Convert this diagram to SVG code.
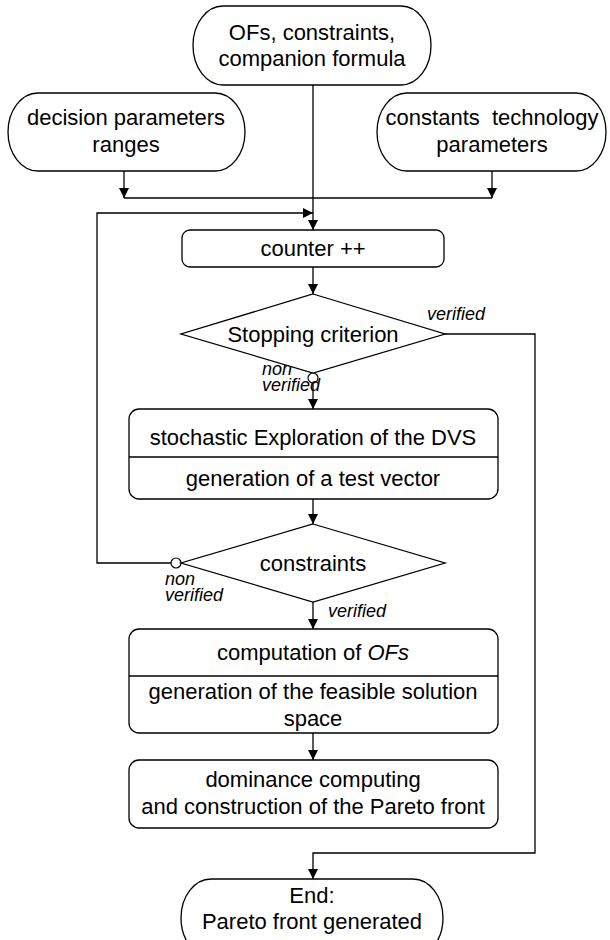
<svg xmlns="http://www.w3.org/2000/svg" width="610" height="940" viewBox="0 0 610 940">
  <style>
    .shape { fill: #ffffff; stroke: #000000; stroke-width: 1.3; }
    .wire { fill: none; stroke: #000000; stroke-width: 1.3; }
    .txt { font-family: "Liberation Sans", Arial, sans-serif; font-size: 22px; fill: #000000; text-anchor: middle; }
    .lbl { font-family: "Liberation Sans", Arial, sans-serif; font-size: 18px; font-style: italic; fill: #000000; }
    .dot { fill: #ffffff; stroke: #000000; stroke-width: 1.2; }
  </style>
  <defs>
    <marker id="arrow" viewBox="0 0 10 10" refX="10" refY="5" markerWidth="10" markerHeight="10" markerUnits="userSpaceOnUse" orient="auto">
      <path d="M0,0 L10,5 L0,10 z" fill="#000000"/>
    </marker>
  </defs>
  <rect width="610" height="940" fill="#ffffff"/>

  <!-- connectors -->
  <g id="connectors">
    <path class="wire" d="M313,85 V230" marker-end="url(#arrow)"/>
    <path class="wire" d="M124,171 V198" marker-end="url(#arrow)"/>
    <path class="wire" d="M492,171 V198" marker-end="url(#arrow)"/>
    <path class="wire" d="M124,198 H492"/>
    <path class="wire" d="M171,563 H97 V213 H313" marker-end="url(#arrow)"/>
    <path class="wire" d="M313,267 V294" marker-end="url(#arrow)"/>
    <path class="wire" d="M313,383 V409" marker-end="url(#arrow)"/>
    <path class="wire" d="M313,499 V524" marker-end="url(#arrow)"/>
    <path class="wire" d="M313,602 V629" marker-end="url(#arrow)"/>
    <path class="wire" d="M313,733 V760" marker-end="url(#arrow)"/>
    <path class="wire" d="M445,334 H535 V853 H313 V879" marker-end="url(#arrow)"/>
    <circle class="dot" cx="313" cy="378" r="5"/>
    <circle class="dot" cx="176" cy="563" r="5"/>
    <text class="lbl" x="427" y="320">verified</text>
    <text class="lbl" x="262" y="375">non<tspan x="262" dy="16">verified</tspan></text>
    <text class="lbl" x="165" y="585">non<tspan x="165" dy="16">verified</tspan></text>
    <text class="lbl" x="328" y="617">verified</text>
  </g>

  <g id="inputs-main">
    <rect class="shape" x="193" y="6" width="238" height="79" rx="30" ry="39.5"/>
    <text class="txt" x="312" y="40">OFs, constraints,</text>
    <text class="txt" x="312" y="66">companion formula</text>
  </g>

  <g id="decision-ranges">
    <rect class="shape" x="8" y="93" width="237" height="78" rx="30" ry="39"/>
    <text class="txt" x="126" y="125">decision parameters</text>
    <text class="txt" x="126" y="152">ranges</text>
  </g>

  <g id="technology-constants">
    <rect class="shape" x="377" y="93" width="229" height="78" rx="30" ry="39"/>
    <text class="txt" x="492" y="125">constants&#160; technology</text>
    <text class="txt" x="492" y="152">parameters</text>
  </g>

  <g id="counter">
    <rect class="shape" x="182" y="230" width="262" height="37" rx="8"/>
    <text class="txt" x="313" y="256">counter ++</text>
  </g>

  <g id="stopping-criterion">
    <polygon class="shape" points="313,294 445,334 313,373 181,334"/>
    <text class="txt" x="313" y="342">Stopping criterion</text>
  </g>

  <g id="exploration">
    <rect class="shape" x="129" y="409" width="369" height="90" rx="10"/>
    <line class="wire" x1="129" y1="457" x2="498" y2="457"/>
    <text class="txt" x="313" y="445">stochastic Exploration of the DVS</text>
    <text class="txt" x="313" y="486">generation of a test vector</text>
  </g>

  <g id="constraints-check">
    <polygon class="shape" points="313,524 445,563 313,602 181,563"/>
    <text class="txt" x="313" y="571">constraints</text>
  </g>

  <g id="computation">
    <rect class="shape" x="129" y="629" width="369" height="104" rx="10"/>
    <line class="wire" x1="129" y1="676" x2="498" y2="676"/>
    <text class="txt" x="313" y="660">computation of <tspan font-style="italic">OFs</tspan></text>
    <text class="txt" x="313" y="699">generation of the feasible solution</text>
    <text class="txt" x="313" y="726">space</text>
  </g>

  <g id="dominance">
    <rect class="shape" x="129" y="760" width="369" height="68" rx="10"/>
    <text class="txt" x="313" y="787">dominance computing</text>
    <text class="txt" x="313" y="814">and construction of the Pareto front</text>
  </g>

  <g id="end">
    <rect class="shape" x="181" y="879" width="262" height="78" rx="30" ry="39"/>
    <text class="txt" x="312" y="903">End:</text>
    <text class="txt" x="312" y="929">Pareto front generated</text>
  </g>
</svg>
